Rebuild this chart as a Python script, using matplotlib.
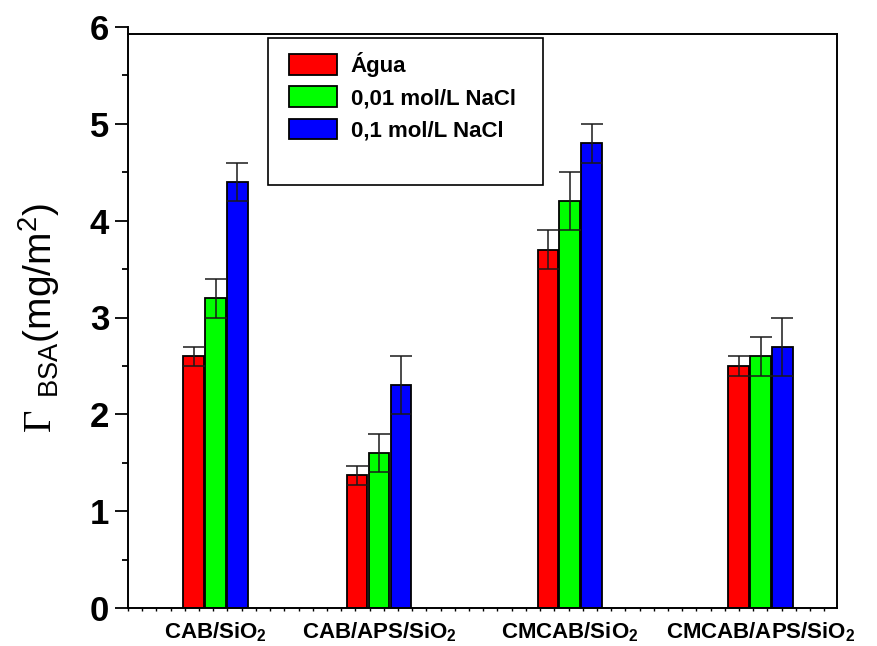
import matplotlib
matplotlib.use("Agg")
import matplotlib.pyplot as plt
import matplotlib.patches as mpatches
import numpy as np

# data
groups = ["CAB/SiO$_\\mathbf{2}$", "CAB/APS/SiO$_\\mathbf{2}$",
          "CMCAB/SiO$_\\mathbf{2}$", "CMCAB/APS/SiO$_\\mathbf{2}$"]
series = ["Água", "0,01 mol/L NaCl", "0,1 mol/L NaCl"]
agua = [2.6, 1.37, 3.7, 2.5]
nacl_001 = [3.2, 1.6, 4.2, 2.6]
nacl_01 = [4.4, 2.3, 4.8, 2.7]
err_agua = [0.1, 0.1, 0.2, 0.1]
err_001 = [0.2, 0.2, 0.3, 0.2]
err_01 = [0.2, 0.3, 0.2, 0.3]

# group centres on the x axis (first group sits closer to the second one)
group_pos = [1.143, 2.0, 3.0, 4.0]

colors = ["#ff0000", "#00ff00", "#0000ff"]

plt.rcParams["font.family"] = ["Liberation Sans", "DejaVu Sans"]
plt.rcParams["mathtext.fontset"] = "custom"
plt.rcParams["mathtext.rm"] = "Liberation Serif"
plt.rcParams["mathtext.sf"] = "Liberation Sans"
plt.rcParams["mathtext.bf"] = "Liberation Sans:bold"

fig = plt.figure(figsize=(8.78, 6.46), dpi=100)
W, H = 878, 646
ax = fig.add_axes([128 / W, (646 - 608) / H, (837 - 128) / W, (608 - 27) / H])

width = 0.108
step = 0.115
x = np.array(group_pos)
values = [agua, nacl_001, nacl_01]
errors = [err_agua, err_001, err_01]
bars = []
for i, (vals, errs) in enumerate(zip(values, errors)):
    xi = x + (i - 1) * step
    b = ax.bar(xi, vals, width=width, color=colors[i], edgecolor="black",
               linewidth=1.3, label=series[i], zorder=2)
    ax.errorbar(xi, vals, yerr=errs, fmt="none", ecolor="#1a1a1a",
                elinewidth=1.1, capsize=7.8, capthick=1.1, zorder=3)
    bars.append(b)

ax.set_xlim(0.684, 4.401)
ax.set_ylim(0, 6)

# frame first: moving a spine resets the ticks of its axis
for side in ["left", "bottom", "right", "top"]:
    ax.spines[side].set_linewidth(1.4)
ax.spines["top"].set_position(("data", 5.93))
ax.spines["top"].set_bounds(0.684, 4.401)
ax.spines["right"].set_bounds(0, 5.93)

# y axis
ax.set_yticks(np.arange(0, 7, 1))
ax.set_yticks(np.arange(0.5, 6, 1), minor=True)
ax.tick_params(axis="y", which="major", direction="out", length=9.5,
               width=1.3, labelsize=25, pad=4)
ax.tick_params(axis="y", which="minor", direction="out", length=4.5, width=1.3)
for lab in ax.get_yticklabels():
    lab.set_fontweight("bold")

# x axis
ax.set_xticks(np.arange(0.684, 4.401, 0.0745), minor=True)
ax.tick_params(axis="x", which="major", length=0, pad=9)
ax.tick_params(axis="x", which="minor", direction="out", length=2.5, width=1.0)
ax.set_xticks(group_pos)
ax.set_xticklabels(groups, fontsize=16, fontweight="bold")

ax.set_ylabel(r"$\mathrm{\Gamma}\ _{\mathsf{BSA}}$(mg/m$^{\mathsf{2}}$)", fontsize=28)
ax.yaxis.set_label_coords(-0.093, 0.5)

# legend with its own (taller) frame
leg = ax.legend(handles=bars, loc="upper left", frameon=False,
                bbox_to_anchor=(289 / W, 1 - 52 / H), bbox_transform=fig.transFigure,
                borderpad=0, borderaxespad=0, handlelength=2.15, handleheight=1.05,
                labelspacing=0.42, handletextpad=0.62,
                prop={"size": 16, "weight": "bold"})
frame = mpatches.Rectangle((268 / W, 1 - 185 / H), 275 / W, 147 / H, fill=False,
                           edgecolor="black", linewidth=1.2, transform=fig.transFigure)
fig.add_artist(frame)

fig.savefig("out.png", dpi=100)
